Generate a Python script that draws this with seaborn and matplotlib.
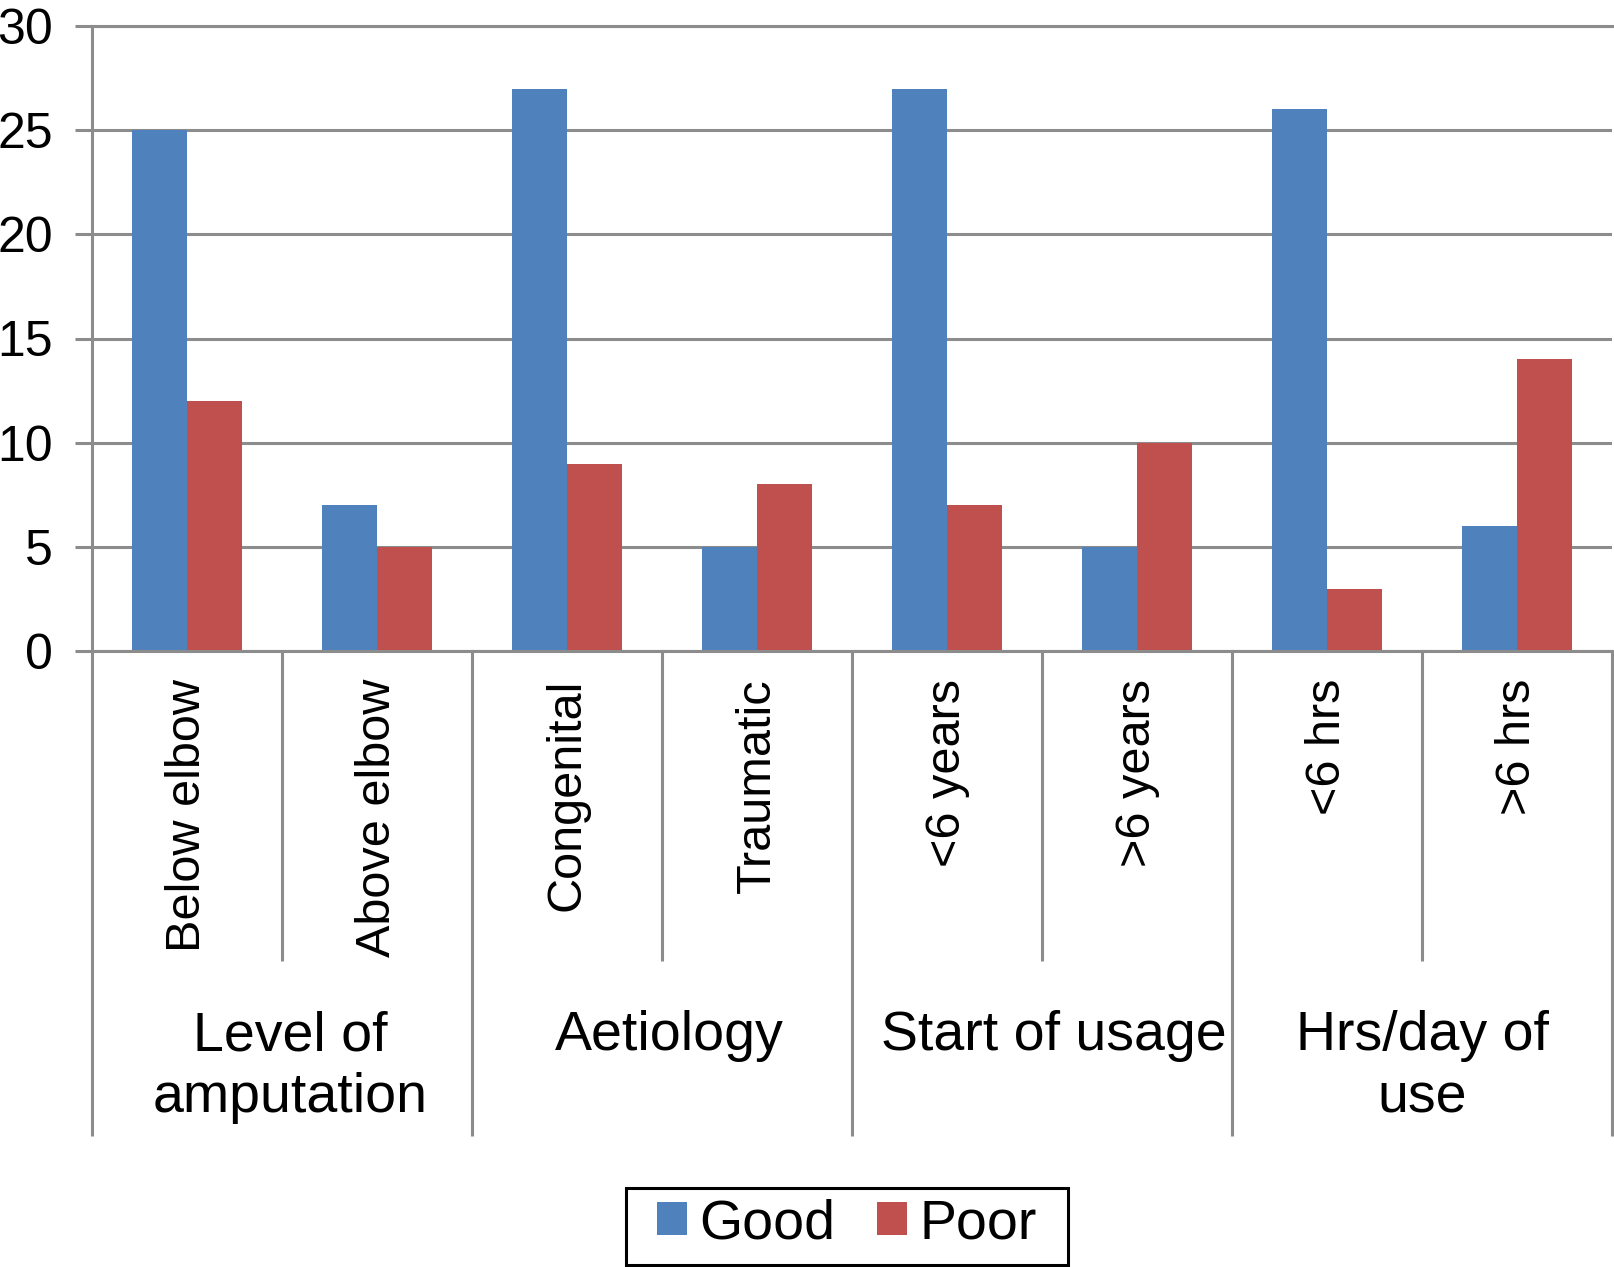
import seaborn as sns
import matplotlib.pyplot as plt
import matplotlib.transforms as mtransforms
from matplotlib.patches import Rectangle
import pandas as pd

# valores
categorias = ['Below elbow', 'Above elbow', 'Congenital', 'Traumatic',
              '<6 years', '>6 years', '<6 hrs', '>6 hrs']
grupos = ['Level of\namputation', 'Aetiology', 'Start of usage', 'Hrs/day of\nuse']
good = [25, 7, 27, 5, 27, 5, 26, 6]
poor = [12, 5, 9, 8, 7, 10, 3, 14]
series = ['Good', 'Poor']
cores = ['#4F81BD', '#C0504D']
cinza = '#8C8C8C'

df = pd.DataFrame({
    'categoria': categorias * 2,
    'valor': good + poor,
    'resultado': ['Good'] * len(good) + ['Poor'] * len(poor),
})

sns.set_style('white')
plt.rcParams['font.family'] = ['Liberation Sans', 'DejaVu Sans']
plt.rcParams['text.color'] = 'black'

fig = plt.figure(figsize=(16.14, 12.67), dpi=100)
ax = fig.add_axes([92 / 1614, 1 - 651 / 1267, 1520 / 1614, 625 / 1267])

sns.barplot(data=df, x='categoria', y='valor', hue='resultado', order=categorias,
            hue_order=series, palette=cores, saturation=1, width=0.58,
            linewidth=0, ax=ax)

ax.set_xlim(-0.5, 7.5)
ax.set_ylim(0, 30)
ax.set_yticks(range(0, 31, 5))
ax.set_xlabel('')
ax.set_ylabel('')
ax.yaxis.grid(True, color=cinza, linewidth=2.2)
ax.set_axisbelow(True)
for lado in ['left', 'bottom', 'top']:
    ax.spines[lado].set_color(cinza)
    ax.spines[lado].set_linewidth(2.2)
ax.spines['right'].set_visible(False)

ax.tick_params(axis='y', direction='out', length=12, width=2.2, color=cinza,
               labelsize=36, labelcolor='black', pad=16, left=True)
ax.set_xticks(range(len(categorias)))
ax.set_xticklabels(categorias, rotation=90, fontsize=35, color='black')
ax.tick_params(axis='x', length=0, pad=20)

# linhas separadoras abaixo do eixo
trans = mtransforms.blended_transform_factory(ax.transData, ax.transAxes)
for i in range(len(categorias) + 1):
    x = i - 0.5
    fim = -0.776 if i % 2 == 0 else -0.496
    ax.plot([x, x], [0, fim], transform=trans, color=cinza, lw=2.2,
            clip_on=False, solid_capstyle='butt')

desloc = [0.045, 0.04, 0.06, 0.0]
for k, g in enumerate(grupos):
    ax.text(2 * k + 0.5 + desloc[k], -0.575, g, transform=trans, ha='center',
            va='top', fontsize=40, linespacing=1.25)

handles, labels = ax.get_legend_handles_labels()
ax.get_legend().remove()
fig.legend(handles, labels, loc='center', bbox_to_anchor=(847 / 1614, 1 - 1224.5 / 1267),
           ncol=2, fontsize=40, frameon=False, handlelength=0.54, handleheight=0.54,
           handletextpad=0.22, columnspacing=0.75, borderpad=0, borderaxespad=0)
fig.patches.append(Rectangle((626 / 1614, 2 / 1267), 442 / 1614, 77 / 1267,
                             transform=fig.transFigure, fill=False,
                             edgecolor='black', linewidth=2.2))

plt.savefig('out.png', dpi=100)
